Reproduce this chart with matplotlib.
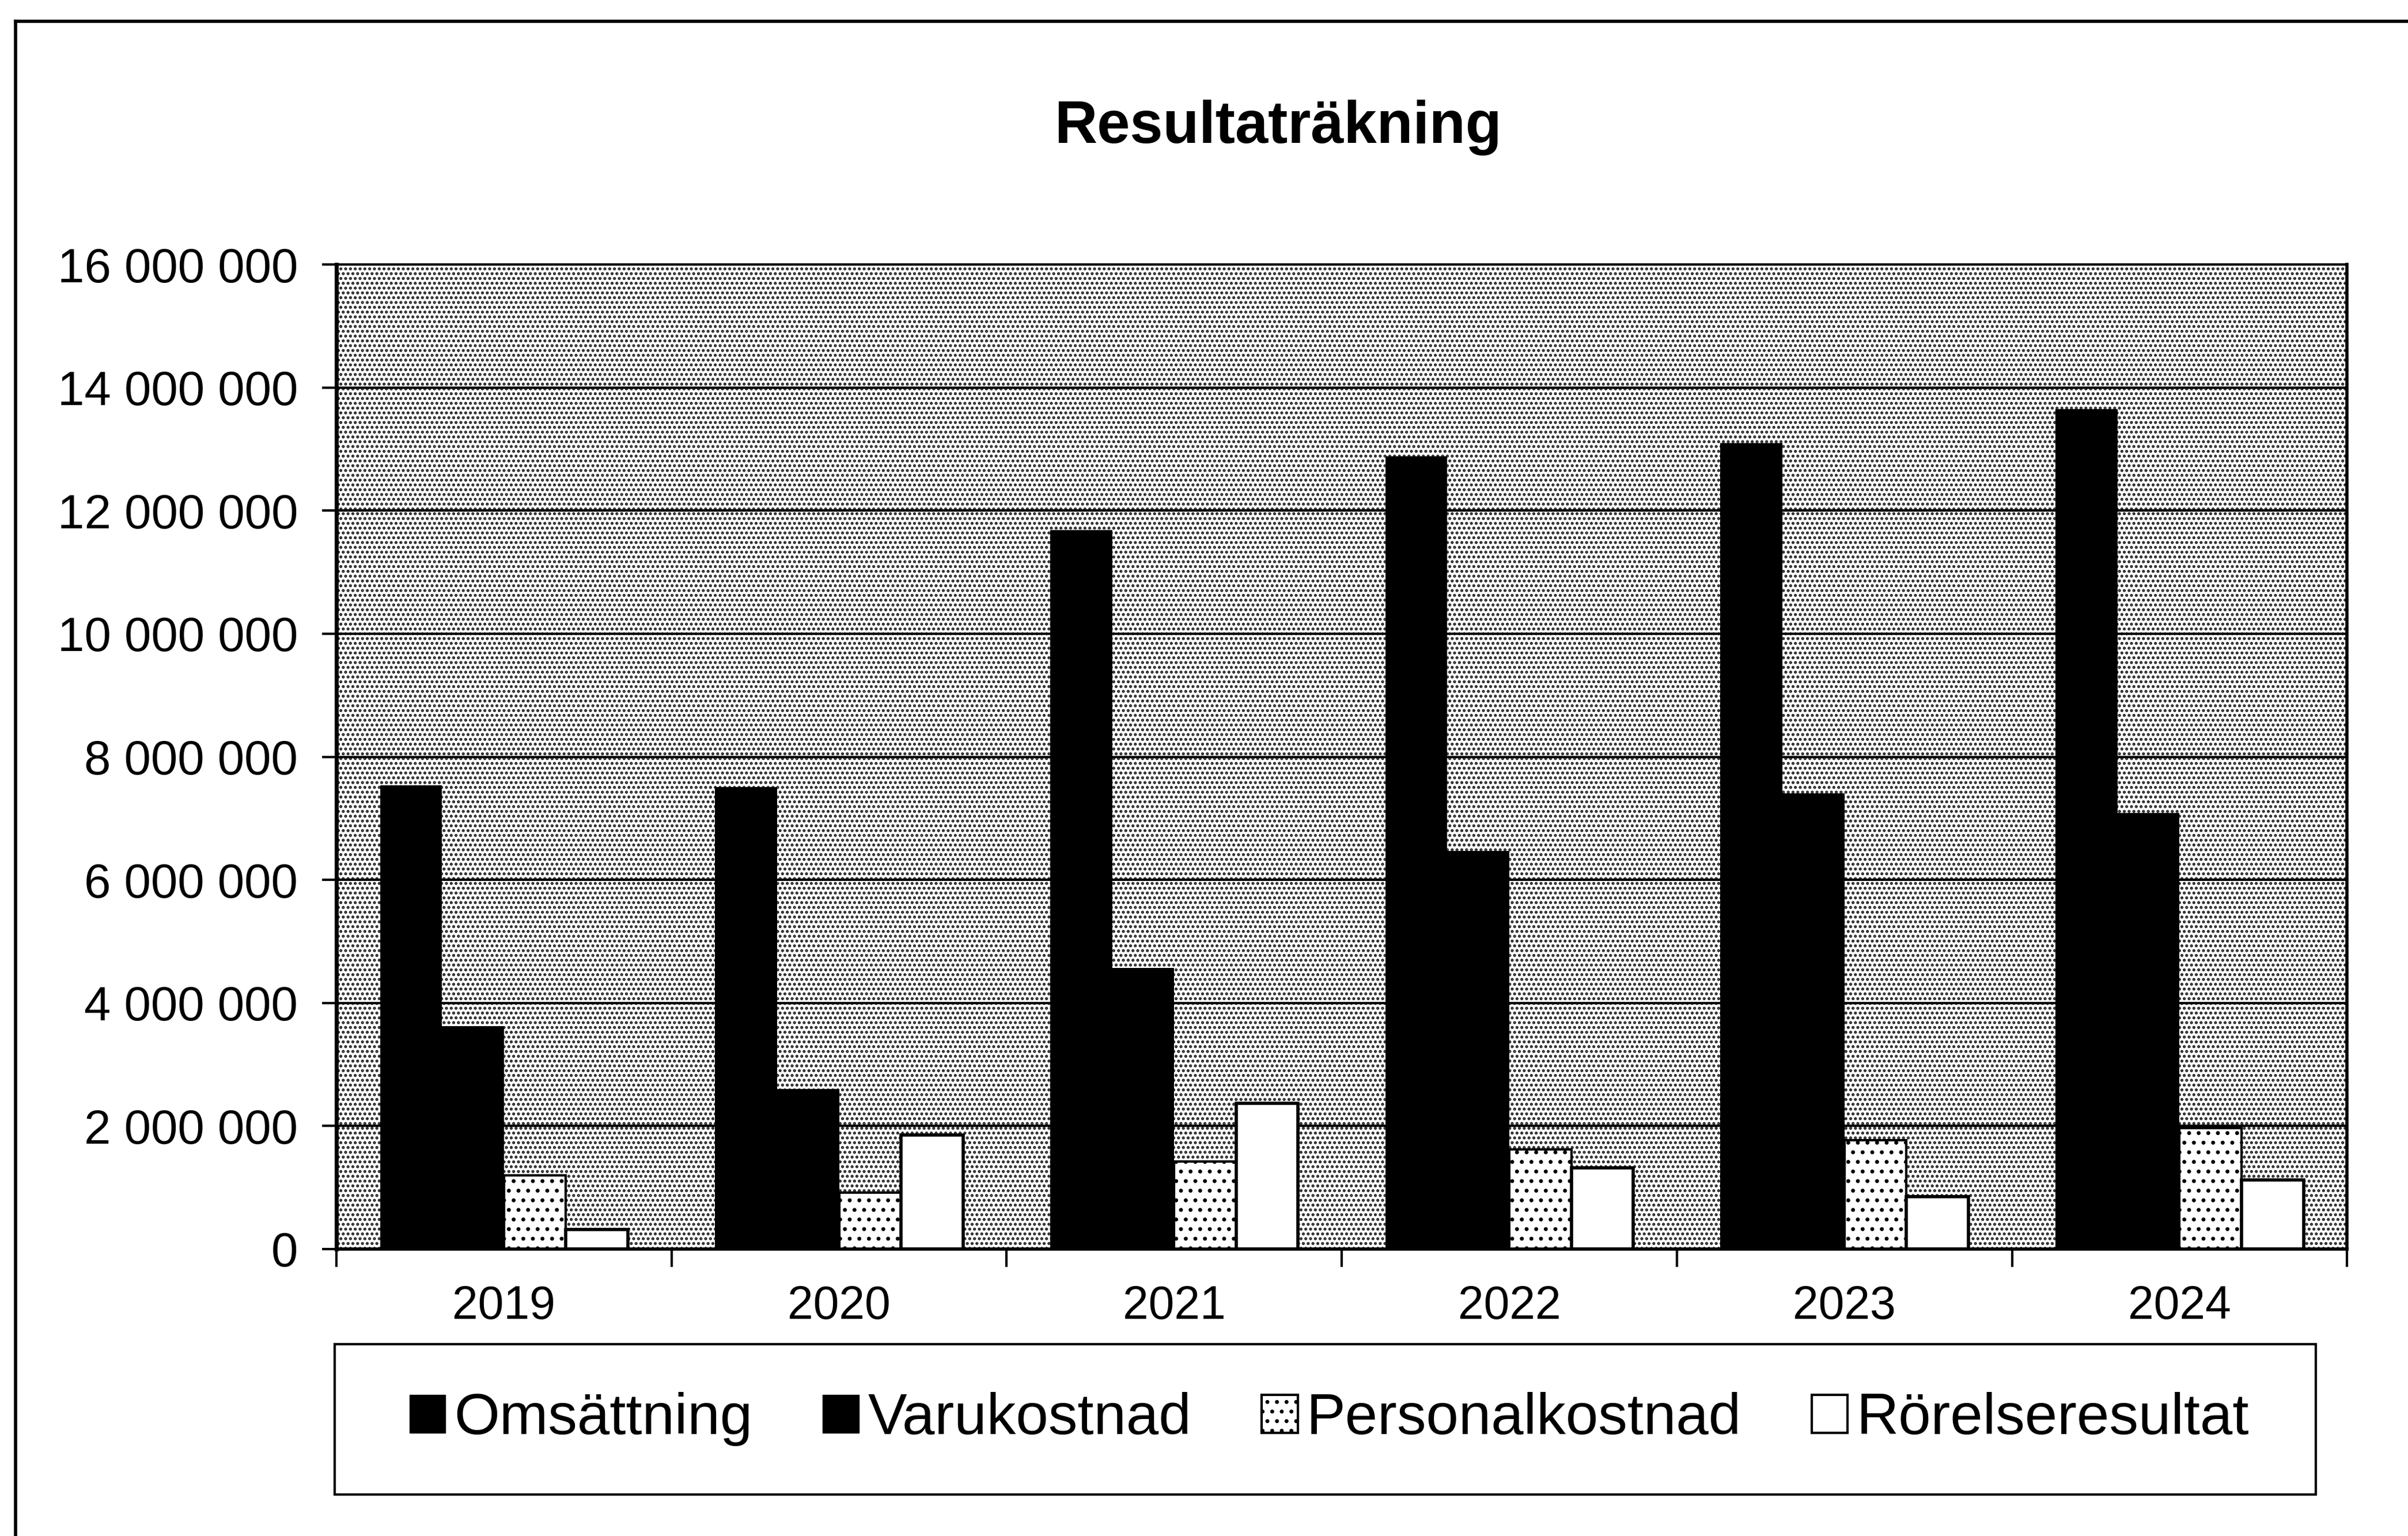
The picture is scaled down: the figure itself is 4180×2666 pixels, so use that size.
import matplotlib
matplotlib.use("Agg")
import matplotlib.pyplot as plt
import numpy as np
from matplotlib.patches import Rectangle, Patch
from matplotlib.lines import Line2D
from matplotlib.ticker import FuncFormatter

plt.rcParams['font.family'] = ['Liberation Sans', 'DejaVu Sans']
plt.rcParams['hatch.linewidth'] = 2.5

# data
years = ['2019', '2020', '2021', '2022', '2023', '2024']
omsattning = [7540000, 7510000, 11680000, 12880000, 13100000, 13650000]
varukostnad = [3620000, 2600000, 4570000, 6470000, 7410000, 7090000]
personalkostnad = [1200000, 920000, 1420000, 1620000, 1770000, 1970000]
rorelseresultat = [320000, 1850000, 2370000, 1320000, 850000, 1120000]
series_names = ['Omsättning', 'Varukostnad', 'Personalkostnad', 'Rörelseresultat']

fig = plt.figure(figsize=(41.8, 26.66), dpi=100)
ax = fig.add_axes([0.1397, 0.1868, 0.835, 0.641])

# speckled plot area background
bg = Rectangle((0, 0), 1, 1, transform=ax.transAxes, facecolor='white',
               edgecolor='#222222', hatch='..', linewidth=0, zorder=0.1)
ax.add_patch(bg)
ax.set_facecolor('white')

x = np.arange(len(years))
w = 0.185
series = [omsattning, varukostnad, personalkostnad, rorelseresultat]
faces = ['black', 'black', 'white', 'white']
lws = [0, 0, 3, 4]
hatches = [None, None, '.', None]
for i, (vals, fc) in enumerate(zip(series, faces)):
    ax.bar(x + (i - 1.5) * w, vals, width=w, color=fc, edgecolor='black',
           linewidth=lws[i], hatch=hatches[i], zorder=2, label=series_names[i])

ax.set_ylim(0, 16000000)
ax.set_xlim(-0.5, len(years) - 0.5)
ax.set_yticks(np.arange(0, 16000001, 2000000))
ax.yaxis.set_major_formatter(FuncFormatter(lambda v, p: f"{int(v):,}".replace(",", " ")))
ax.grid(axis='y', color='black', linewidth=3)
ax.set_axisbelow(True)

ax.set_xticks(np.arange(-0.5, len(years), 1.0))
ax.set_xticklabels([])
ax.set_xticks(x, minor=True)
ax.set_xticklabels(years, minor=True)
ax.tick_params(axis='x', which='major', length=22, width=3, direction='out')
ax.tick_params(axis='x', which='minor', length=0, pad=45, labelsize=58)
ax.tick_params(axis='y', length=18, width=3, pad=30, labelsize=60)

ax.spines['left'].set_linewidth(5)
ax.spines['right'].set_linewidth(4)
ax.spines['top'].set_linewidth(3)
ax.spines['bottom'].set_linewidth(4)

fig.text(0.5306, 0.917, 'Resultaträkning', ha='center', va='center',
         fontsize=74, fontweight='bold')

# legend frame and entries
fig.patches.append(Rectangle((0.139, 0.027), 0.8227, 0.0979, transform=fig.transFigure,
                             facecolor='white', edgecolor='black', linewidth=3))
handles = [Patch(facecolor='black', edgecolor='black'),
           Patch(facecolor='black', edgecolor='black'),
           Patch(facecolor='white', edgecolor='black', linewidth=3, hatch='.'),
           Patch(facecolor='white', edgecolor='black', linewidth=3)]
fig.legend(handles, series_names, loc='center', bbox_to_anchor=(0.552, 0.076),
           ncol=4, frameon=False, fontsize=73, handlelength=0.62, handleheight=0.62,
           handletextpad=0.15, columnspacing=1.2)

# outer border (top and left only visible)
fig.add_artist(Line2D([0.0065, 1.0], [0.986, 0.986], transform=fig.transFigure,
                      color='black', linewidth=4))
fig.add_artist(Line2D([0.0065, 0.0065], [0.0, 0.986], transform=fig.transFigure,
                      color='black', linewidth=4))

fig.savefig('out.png', dpi=100)
